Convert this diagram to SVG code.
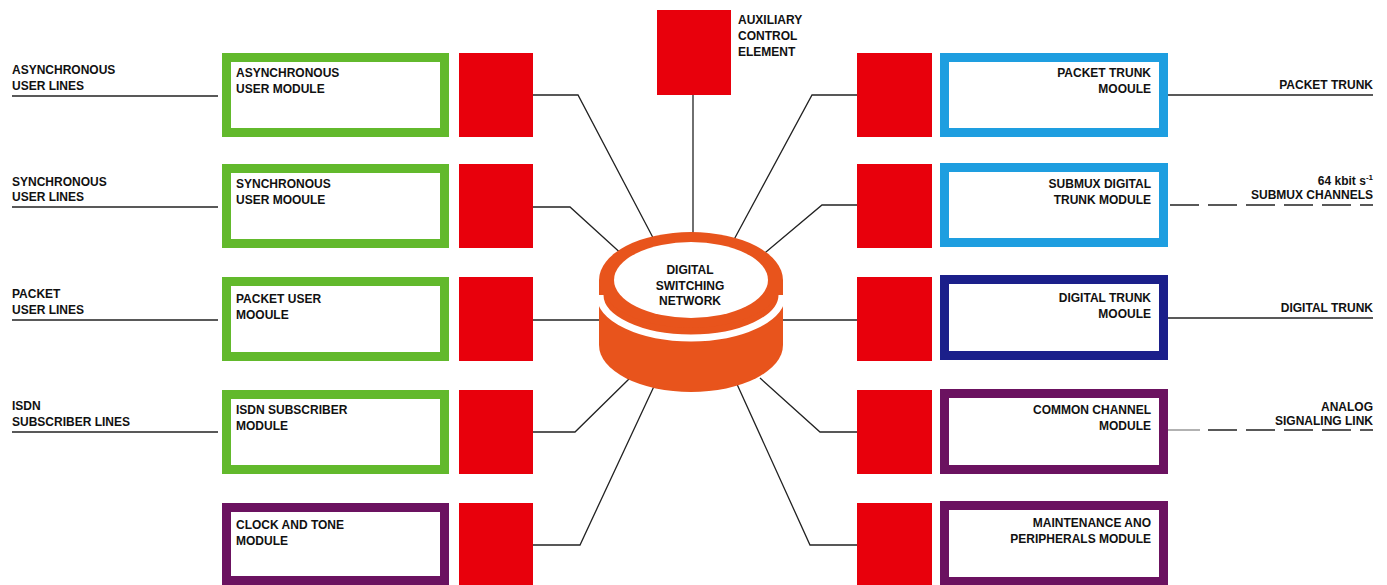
<svg xmlns="http://www.w3.org/2000/svg" width="1387" height="585" viewBox="0 0 1387 585">
<style>
text{font-family:"Liberation Sans",Arial,sans-serif;font-weight:bold;font-size:12px;fill:#111}
.r{text-anchor:end}
.m{text-anchor:middle}
.red{fill:#e8000c}
.box{fill:#fff;stroke-width:9}
.g{stroke:#62b92c}
.lb{stroke:#1e9ee0}
.db{stroke:#1b1f8a}
.p{stroke:#6b1260}
.ln{stroke:#222;stroke-width:1.3;fill:none}
.dash{stroke:#222;stroke-width:1.6;fill:none;stroke-dasharray:29 9}
</style>
<rect width="1387" height="585" fill="#fff"/>
<g id="connectors">
<path class="ln" d="M533,95 H578 L660,251"/>
<path class="ln" d="M533,207 H570 L625,257"/>
<path class="ln" d="M533,320 H610"/>
<path class="ln" d="M533,432 H575 L630,378"/>
<path class="ln" d="M533,545 H580 L656,382"/>
<path class="ln" d="M857,95 H812 L730,247"/>
<path class="ln" d="M857,205 H822 L760,257"/>
<path class="ln" d="M857,320 H775"/>
<path class="ln" d="M857,432 H820 L760,378"/>
<path class="ln" d="M857,545 H810 L736,382"/>
<path class="ln" d="M693,95 V240"/>
<path class="ln" d="M12,96 H218"/>
<path class="ln" d="M12,207 H218"/>
<path class="ln" d="M12,320 H218"/>
<path class="ln" d="M12,432 H218"/>
<path class="ln" d="M1168,95 H1373"/>
<path class="dash" d="M1170,205 H1373"/>
<path class="ln" d="M1168,318 H1373"/>
<path class="ln" d="M1168,430 H1200" style="stroke:#888"/>
<path class="dash" d="M1208,430 H1373"/>
</g>
<g id="dsn">
<path d="M599,280 V345 A92,47 0 0 0 783,345 V280 Z" fill="#e8541c"/>
<ellipse cx="691" cy="280" rx="92" ry="48" fill="#e8541c"/>
<path d="M600,295 A91,43 0 0 0 782,295" fill="none" stroke="#fff" stroke-width="7"/>
<ellipse cx="691" cy="280" rx="77" ry="38" fill="#fff"/>
<text class="m" x="690" y="274">DIGITAL</text>
<text class="m" x="690" y="290">SWITCHING</text>
<text class="m" x="690" y="305">NETWORK</text>
</g>
<g id="aux">
<rect class="red" x="657" y="10" width="74" height="85"/>
<text x="738" y="24">AUXILIARY</text>
<text x="738" y="40">CONTROL</text>
<text x="738" y="56">ELEMENT</text>
</g>
<g id="lbl-async"><text x="12" y="74">ASYNCHRONOUS</text><text x="12" y="90">USER LINES</text></g>
<g id="lbl-sync"><text x="12" y="186">SYNCHRONOUS</text><text x="12" y="201">USER LINES</text></g>
<g id="lbl-packet"><text x="12" y="298">PACKET</text><text x="12" y="314">USER LINES</text></g>
<g id="lbl-isdn"><text x="12" y="410">ISDN</text><text x="12" y="426">SUBSCRIBER LINES</text></g>
<g id="lbl-ptrunk"><text class="r" x="1373" y="89">PACKET TRUNK</text></g>
<g id="lbl-submux"><text class="r" x="1373" y="185">64 kbit s<tspan font-size="8" dy="-5">-1</tspan></text><text class="r" x="1373" y="199">SUBMUX CHANNELS</text></g>
<g id="lbl-dtrunk"><text class="r" x="1373" y="312">DIGITAL TRUNK</text></g>
<g id="lbl-analog"><text class="r" x="1373" y="411">ANALOG</text><text class="r" x="1373" y="425">SIGNALING LINK</text></g>
<g id="m-async">
<rect class="box g" x="226.5" y="57.5" width="218" height="75"/>
<rect class="red" x="459" y="53" width="74" height="84"/>
<text x="236" y="77">ASYNCHRONOUS</text><text x="236" y="93">USER MODULE</text>
</g>
<g id="m-sync">
<rect class="box g" x="226.5" y="168.5" width="218" height="75"/>
<rect class="red" x="459" y="164" width="74" height="84"/>
<text x="236" y="188">SYNCHRONOUS</text><text x="236" y="204">USER MOOULE</text>
</g>
<g id="m-packet">
<rect class="box g" x="226.5" y="281.5" width="218" height="75"/>
<rect class="red" x="459" y="277" width="74" height="84"/>
<text x="236" y="303">PACKET USER</text><text x="236" y="319">MOOULE</text>
</g>
<g id="m-isdn">
<rect class="box g" x="226.5" y="394.5" width="218" height="75"/>
<rect class="red" x="459" y="390" width="74" height="84"/>
<text x="236" y="414">ISDN SUBSCRIBER</text><text x="236" y="430">MODULE</text>
</g>
<g id="m-clock">
<rect class="box p" x="226.5" y="507.5" width="218" height="73"/>
<rect class="red" x="459" y="503" width="74" height="82"/>
<text x="236" y="529">CLOCK AND TONE</text><text x="236" y="545">MODULE</text>
</g>
<g id="m-ptrunk">
<rect class="red" x="857" y="53" width="75" height="84"/>
<rect class="box lb" x="944.5" y="57.5" width="219" height="75"/>
<text class="r" x="1151" y="77">PACKET TRUNK</text><text class="r" x="1151" y="93">MOOULE</text>
</g>
<g id="m-submux">
<rect class="red" x="857" y="164" width="75" height="84"/>
<rect class="box lb" x="944.5" y="167.5" width="219" height="75"/>
<text class="r" x="1151" y="188">SUBMUX DIGITAL</text><text class="r" x="1151" y="204">TRUNK MODULE</text>
</g>
<g id="m-dtrunk">
<rect class="red" x="857" y="277" width="75" height="84"/>
<rect class="box db" x="944.5" y="279.5" width="219" height="76"/>
<text class="r" x="1151" y="302">DIGITAL TRUNK</text><text class="r" x="1151" y="318">MOOULE</text>
</g>
<g id="m-ccs">
<rect class="red" x="857" y="390" width="75" height="84"/>
<rect class="box p" x="944.5" y="393.5" width="219" height="76"/>
<text class="r" x="1151" y="414">COMMON CHANNEL</text><text class="r" x="1151" y="430">MODULE</text>
</g>
<g id="m-maint">
<rect class="red" x="857" y="503" width="75" height="82"/>
<rect class="box p" x="944.5" y="505.5" width="219" height="76"/>
<text class="r" x="1151" y="527">MAINTENANCE ANO</text><text class="r" x="1151" y="543">PERIPHERALS MODULE</text>
</g>
</svg>
